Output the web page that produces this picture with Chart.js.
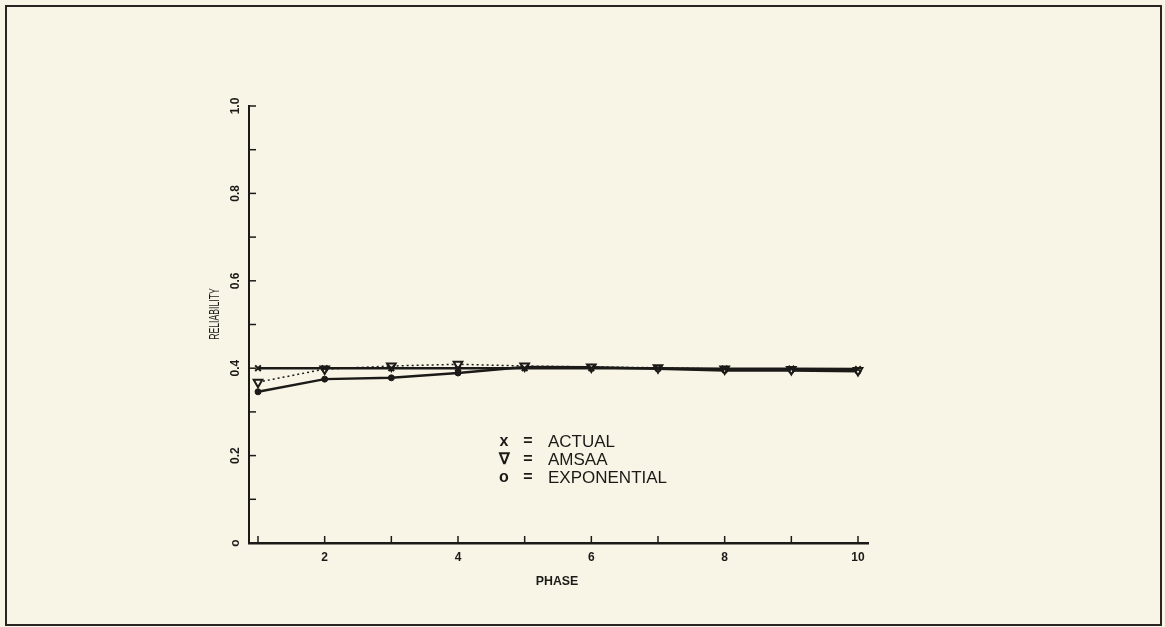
<!DOCTYPE html>
<html lang="en">
<head>
  <meta charset="UTF-8" />
  <title>Reliability by Phase</title>
  <script src="https://cdn.jsdelivr.net/npm/chart.js"></script>
  <style>
    html, body {
      margin: 0;
      padding: 0;
      background-color: #f8f5e6;
    }
    #wrap {
      width: 1165px;
      height: 627px;
    }
  </style>
</head>
<body>
  <div id="wrap"><canvas id="relChart" width="1165" height="627"></canvas></div>

  <script>
    // values
    const phases = [1, 2, 3, 4, 5, 6, 7, 8, 9, 10];
    const actual = [0.400, 0.400, 0.400, 0.400, 0.400, 0.400, 0.400, 0.399, 0.399, 0.398];
    const amsaa = [0.368, 0.398, 0.405, 0.409, 0.405, 0.403, 0.401, 0.398, 0.397, 0.395];
    const exponential = [0.346, 0.375, 0.378, 0.389, 0.403, 0.402, 0.399, 0.395, 0.395, 0.393];
    const yTickValues = [0, 0.2, 0.4, 0.6, 0.8, 1.0];
    const yTickLabels = ['o', '0.2', '0.4', '0.6', '0.8', '1.0'];
    const xLabelValues = [2, 4, 6, 8, 10];
    const legendRows = [['x', 'ACTUAL'], ['∇', 'AMSAA'], ['o', 'EXPONENTIAL']];

    const ink = '#1c1a18';
    const toPts = ys => phases.map((p, i) => ({ x: p, y: ys[i] }));

    // frame, inward ticks, rotated labels and the text legend
    const plotterText = {
      id: 'plotterText',
      beforeDraw(chart) {
        const c = chart.ctx;
        c.save();
        c.fillStyle = '#f8f5e6';
        c.fillRect(0, 0, chart.width, chart.height);
        c.strokeStyle = '#2a2522';
        c.lineWidth = 2;
        c.strokeRect(6, 6, 1155, 619);
        c.restore();
      },
      afterDraw(chart) {
        const c = chart.ctx;
        const xs = chart.scales.x, ys = chart.scales.y;
        const left = chart.chartArea.left, bottom = chart.chartArea.bottom;
        c.save();
        c.strokeStyle = ink;
        c.fillStyle = ink;
        c.lineWidth = 1.5;

        // y minor ticks every 0.1
        for (let k = 0; k <= 10; k++) {
          const py = ys.getPixelForValue(k / 10);
          c.beginPath();
          c.moveTo(left, py);
          c.lineTo(left + 7, py);
          c.stroke();
        }
        // x ticks every phase
        phases.forEach(p => {
          const px = xs.getPixelForValue(p);
          c.beginPath();
          c.moveTo(px, bottom);
          c.lineTo(px, bottom - 7);
          c.stroke();
        });

        // y labels, rotated
        c.font = 'bold 12px "Liberation Sans"';
        c.textAlign = 'center';
        c.textBaseline = 'middle';
        yTickValues.forEach((v, i) => {
          c.save();
          c.translate(236, ys.getPixelForValue(v));
          c.rotate(-Math.PI / 2);
          c.fillText(yTickLabels[i], 0, 0);
          c.restore();
        });
        // x labels
        xLabelValues.forEach(v => {
          c.fillText(String(v), xs.getPixelForValue(v), bottom + 15);
        });

        // axis titles (plotter lettering is narrow)
        c.font = '15px "Liberation Sans"';
        c.save();
        c.translate(215, 314);
        c.rotate(-Math.PI / 2);
        c.scale(0.58, 1);
        c.fillText('RELIABILITY', 0, 0);
        c.restore();
        c.save();
        c.translate(557, 581);
        c.scale(0.95, 1);
        c.font = 'bold 13px "Liberation Sans"';
        c.fillText('PHASE', 0, 0);
        c.restore();

        // legend
        legendRows.forEach((row, i) => {
          const y = 442 + i * 18;
          c.textAlign = 'center';
          c.font = 'bold 16px "Liberation Sans"';
          c.fillText(row[0], 504, y);
          c.fillText('=', 528, y);
          c.textAlign = 'left';
          c.font = '17px "Liberation Sans"';
          c.fillText(row[1], 548, y);
        });
        c.restore();
      }
    };

    new Chart(document.getElementById('relChart'), {
      type: 'scatter',
      data: {
        datasets: [
          {
            label: 'ACTUAL',
            data: toPts(actual),
            showLine: true,
            borderColor: ink,
            borderWidth: 2.5,
            pointStyle: 'crossRot',
            pointRadius: 4,
            pointBorderWidth: 2,
            pointBorderColor: ink
          },
          {
            label: 'AMSAA',
            data: toPts(amsaa),
            showLine: true,
            borderColor: ink,
            borderWidth: 1.5,
            borderDash: [2, 3],
            pointStyle: 'triangle',
            rotation: 180,
            pointRadius: 5,
            pointBorderWidth: 2,
            pointBorderColor: ink,
            pointBackgroundColor: '#f8f5e6'
          },
          {
            label: 'EXPONENTIAL',
            data: toPts(exponential),
            showLine: true,
            borderColor: ink,
            borderWidth: 2.5,
            pointStyle: 'circle',
            pointRadius: 3,
            pointBorderWidth: 1,
            pointBorderColor: ink,
            pointBackgroundColor: ink
          }
        ]
      },
      options: {
        responsive: false,
        animation: false,
        layout: { padding: { left: 241, top: 106, right: 297, bottom: 76 } },
        plugins: {
          legend: { display: false },
          tooltip: { enabled: false }
        },
        scales: {
          x: {
            type: 'linear',
            min: 0.865,
            max: 10.15,
            grid: { display: false },
            ticks: { display: false },
            border: { display: true, color: ink, width: 2.5 }
          },
          y: {
            min: 0,
            max: 1,
            grid: { display: false },
            ticks: { display: false },
            border: { display: true, color: ink, width: 2 }
          }
        }
      },
      plugins: [plotterText]
    });
  </script>
</body>
</html>
